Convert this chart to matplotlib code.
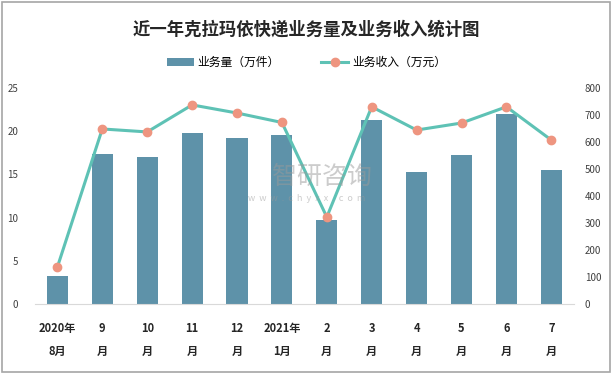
import matplotlib
matplotlib.use('Agg')
import matplotlib.pyplot as plt
from matplotlib.patches import Rectangle

plt.rcParams['font.family'] = ['Noto Sans CJK SC', 'DejaVu Sans']

# 数据
months = ['2020年\n8月', '9\n月', '10\n月', '11\n月', '12\n月', '2021年\n1月',
          '2\n月', '3\n月', '4\n月', '5\n月', '6\n月', '7\n月']
volume = [3.3, 17.4, 17.0, 19.8, 19.2, 19.5, 9.7, 21.3, 15.3, 17.2, 22.0, 15.5]
revenue = [137, 648, 637, 737, 707, 672, 322, 730, 644, 670, 730, 607]

bar_color = '#5E92A9'
line_color = '#5EC2B5'
marker_color = '#EE9580'

fig = plt.figure(figsize=(6.13, 3.74), dpi=100)
fig.patches.append(Rectangle((0.004, 0.005), 0.991, 0.99, transform=fig.transFigure,
                             fill=False, edgecolor='#a6a6a6', linewidth=1.2))

ax = fig.add_axes([0.057, 0.187, 0.879, 0.578])
ax2 = ax.twinx()

x = range(len(months))
ax.bar(x, volume, width=0.47, color=bar_color, label='业务量（万件）', zorder=2)
ax2.plot(x, revenue, color=line_color, linewidth=2.2, marker='o', markersize=6,
         markerfacecolor=marker_color, markeredgecolor=marker_color, label='业务收入（万元）')

ax.set_xlim(-0.5, len(months) - 0.5)
ax.set_ylim(0, 25)
ax2.set_ylim(0, 800)
ax.set_yticks(range(0, 26, 5))
ax2.set_yticks(range(0, 801, 100))

for a in (ax, ax2):
    for s in a.spines.values():
        s.set_visible(False)
    a.tick_params(length=0, labelsize=7, colors='#404040')
ax.spines['bottom'].set_visible(True)
ax.spines['bottom'].set_color('#d9d9d9')
ax.tick_params(axis='y', pad=12)
ax2.tick_params(axis='y', pad=8)

ax.set_xticks(list(x))
ax.set_xticklabels(months, fontsize=8, fontweight='bold', color='#262626', linespacing=2.0)
ax.tick_params(axis='x', pad=13)

fig.suptitle('近一年克拉玛依快递业务量及业务收入统计图', x=0.5, y=0.945,
             fontsize=12.5, fontweight='bold', color='#262626')

h1, l1 = ax.get_legend_handles_labels()
h2, l2 = ax2.get_legend_handles_labels()
fig.legend(h1 + h2, l1 + l2, loc='center', bbox_to_anchor=(0.5, 0.833), ncol=2,
           frameon=False, fontsize=8.5, handlelength=2.3, columnspacing=3.5,
           handletextpad=0.3)

# 水印
fig.text(0.525, 0.527, '智研咨询', ha='center', va='center', fontsize=18,
         color='#9a9a9a', alpha=0.5)
fig.text(0.5, 0.468, 'w  w  w  .  c  h  y  x  x  .  c  o  m', ha='center', va='center',
         fontsize=6.5, color='#9a9a9a', alpha=0.5)

fig.savefig('out.png', dpi=100)
